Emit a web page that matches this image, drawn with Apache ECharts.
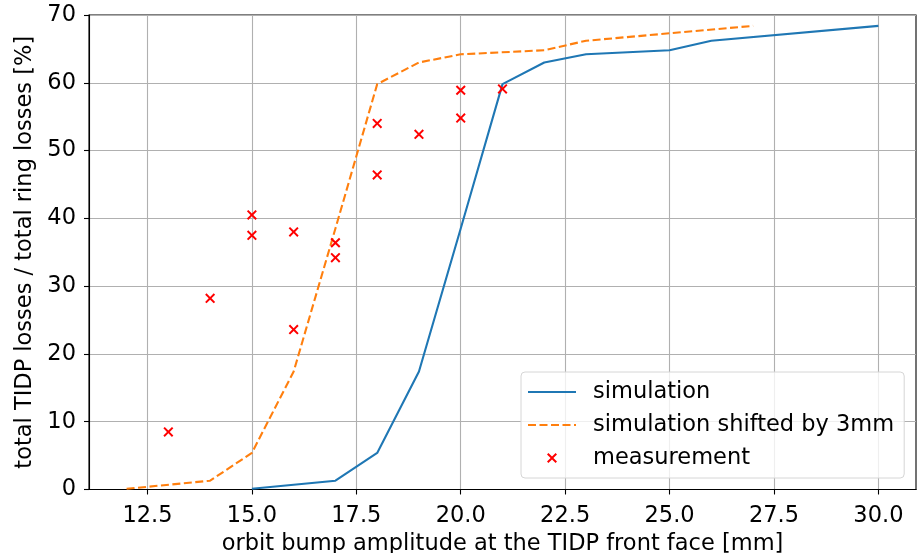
<!DOCTYPE html>
<html>
<head>
<meta charset="utf-8">
<script src="https://cdn.jsdelivr.net/npm/echarts@6/dist/echarts.min.js"></script>
<style>
  html, body { margin: 0; padding: 0; background: #fff; }
  #chart { width: 917px; height: 553px; }
</style>
</head>
<body>
<div id="chart"></div>
<script>
// simulation curve (vertices)
const simX = [15, 17, 18, 19, 20, 21, 22, 23, 25, 26, 30];
const simY = [0.1, 1.3, 5.4, 17.4, 38.5, 59.8, 63.0, 64.2, 64.8, 66.2, 68.4];
// same curve shifted by 3mm
const shiftX = [12, 14, 15, 16, 17, 18, 19, 20, 22, 23, 27];
const shiftY = [0.1, 1.3, 5.4, 17.4, 38.5, 59.8, 63.0, 64.2, 64.8, 66.2, 68.4];
// measurements
const measX = [13, 14, 15, 15, 16, 16, 17, 17, 18, 18, 19, 20, 20, 21];
const measY = [8.5, 28.2, 40.5, 37.5, 38.0, 23.6, 36.4, 34.2, 54.0, 46.4, 52.4, 58.9, 54.8, 59.1];
// tick labels
const xTicks = [12.5, 15.0, 17.5, 20.0, 22.5, 25.0, 27.5, 30.0];

const FONT = 'DejaVu Sans';
const FS = 22.5;
// matplotlib-like 'x' marker
const CROSS = 'path://M0,0.14 L0.14,0 L0.5,0.36 L0.86,0 L1,0.14 L0.64,0.5 L1,0.86 L0.86,1 L0.5,0.64 L0.14,1 L0,0.86 L0.36,0.5 Z';

const pairs = (xs, ys) => xs.map((x, i) => [x, ys[i]]);

const chart = echarts.init(document.getElementById('chart'), null, { renderer: 'canvas' });

chart.setOption({
  backgroundColor: '#fff',
  animation: false,
  textStyle: { fontFamily: FONT },
  grid: {
    left: 89, right: 1, top: 15, bottom: 63.5,
    outerBoundsMode: 'none', containLabel: false,
    show: true, borderColor: '#000', borderWidth: 1.1, backgroundColor: 'transparent'
  },
  xAxis: {
    type: 'value', min: 11.1, max: 30.9,
    name: 'orbit bump amplitude at the TIDP front face [mm]',
    nameLocation: 'middle', nameGap: 42,
    nameTextStyle: { color: '#000', fontSize: FS, fontFamily: FONT },
    axisLine: { show: true, onZero: false, lineStyle: { color: '#000', width: 1.1 } },
    axisTick: { show: true, length: 5, lineStyle: { color: '#000', width: 1.1 }, customValues: xTicks },
    axisLabel: {
      color: '#000', fontSize: FS, fontFamily: FONT, margin: 15,
      customValues: xTicks, formatter: v => v.toFixed(1)
    },
    splitLine: { show: true, lineStyle: { color: '#b0b0b0', width: 1.1 } }
  },
  yAxis: {
    type: 'value', min: 0, max: 70, interval: 10,
    name: 'total TIDP losses / total ring losses [%]',
    nameLocation: 'middle', nameGap: 44,
    nameTextStyle: { color: '#000', fontSize: FS, fontFamily: FONT },
    axisLine: { show: true, lineStyle: { color: '#000', width: 1.1 } },
    axisTick: { show: true, length: 5, lineStyle: { color: '#000', width: 1.1 } },
    axisLabel: { color: '#000', fontSize: FS, fontFamily: FONT, margin: 13 },
    splitLine: { show: true, lineStyle: { color: '#b0b0b0', width: 1.1 } }
  },
  legend: {
    orient: 'vertical', left: 521, top: 372,
    padding: [7, 10, 7, 6], itemGap: 7,
    itemWidth: 48, itemHeight: 10,
    backgroundColor: 'rgba(255,255,255,0.8)',
    borderColor: '#d6d6d6', borderWidth: 1, borderRadius: 4,
    textStyle: { color: '#000', fontSize: FS, fontFamily: FONT, lineHeight: 26, padding: [0, 0, 0, 12] },
    data: [
      { name: 'simulation', itemStyle: { opacity: 0 } },
      { name: 'simulation shifted by 3mm', itemStyle: { opacity: 0 } },
      { name: 'measurement' }
    ]
  },
  series: [
    {
      name: 'simulation', type: 'line', data: pairs(simX, simY),
      symbol: 'none', showSymbol: false,
      lineStyle: { color: '#1f77b4', width: 2.1 }, itemStyle: { color: '#1f77b4' }, z: 2
    },
    {
      name: 'simulation shifted by 3mm', type: 'line', data: pairs(shiftX, shiftY),
      symbol: 'none', showSymbol: false,
      lineStyle: { color: '#ff7f0e', width: 2.1, type: [8, 3.5] }, itemStyle: { color: '#ff7f0e' }, z: 3
    },
    {
      name: 'measurement', type: 'scatter', data: pairs(measX, measY),
      symbol: CROSS, symbolSize: 10,
      itemStyle: { color: '#ff0000', opacity: 1 }, z: 4
    }
  ]
});
</script>
</body>
</html>
